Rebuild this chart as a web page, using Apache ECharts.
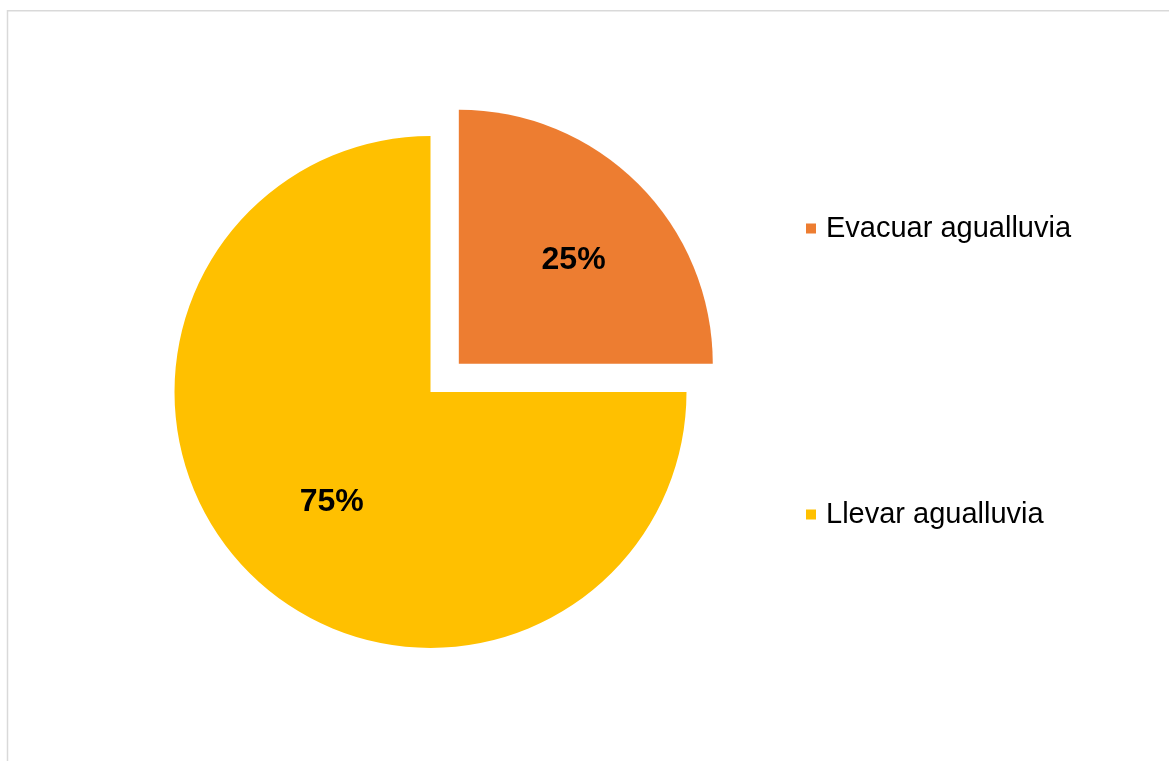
<!DOCTYPE html>
<html>
<head>
<meta charset="utf-8">
<script src="https://cdn.jsdelivr.net/npm/echarts@6/dist/echarts.min.js"></script>
<style>
    html, body { margin: 0; padding: 0; background: #fff; }
    #chart { width: 1169px; height: 761px; }
</style>
</head>
<body>
<div id="chart"></div>
<script>
// categories and values
var categories = ['Evacuar agualluvia', 'Llevar agualluvia'];
var values = [25, 75];
var colors = ['#ED7D31', '#FFC000'];
var exploded = [true, false]; // which slice is pulled out

var CX = 430.5, CY = 392; // pie centre
var R = 256;
var OFFSET = 40;
var FONT = 'Arial, "Liberation Sans", sans-serif';

var total = values.reduce(function (a, b) { return a + b; }, 0);

// mid angle (radians, screen coords) of slice i, starting at 12 o'clock clockwise
function midAngle(i) {
    var before = 0;
    for (var k = 0; k < i; k++) before += values[k];
    var frac = (before + values[i] / 2) / total;
    return -Math.PI / 2 + frac * Math.PI * 2;
}

// one pie series per slice, the other slices left transparent,
// so the exploded slice can get its own shifted centre
function sliceSeries(i) {
    var a = midAngle(i);
    var off = exploded[i] ? OFFSET : 0;
    var cx = CX + Math.cos(a) * off, cy = CY + Math.sin(a) * off;
    return {
        type: 'pie',
        center: [cx, cy],
        radius: exploded[i] ? R - 2 : R,
        startAngle: 90,
        clockwise: true,
        silent: true,
        avoidLabelOverlap: false,
        emphasis: { disabled: true },
        label: {
            show: true,
            position: 'inside',
            formatter: function (p) { return p.percent + '%'; },
            fontFamily: FONT,
            fontSize: 32,
            fontWeight: 'bold',
            color: '#000'
        },
        labelLine: { show: false },
        // labels sit a bit further out than the default half radius
        labelLayout: function () {
            var d = 0.59 * R;
            return {
                x: cx + Math.cos(a) * d + 8,
                y: cy + Math.sin(a) * d + 3,
                align: 'center',
                verticalAlign: 'middle'
            };
        },
        data: categories.map(function (c, k) {
            if (k === i) {
                return { name: c, value: values[k], itemStyle: { color: colors[k], borderWidth: 0 } };
            }
            return {
                name: '_' + k,
                value: values[k],
                itemStyle: { color: 'rgba(0,0,0,0)', borderWidth: 0 },
                label: { show: false }
            };
        })
    };
}

var myChart = echarts.init(document.getElementById('chart'));
myChart.setOption({
    animation: false,
    backgroundColor: '#fff',
    graphic: [{
        type: 'rect',
        silent: true,
        shape: { x: 7.5, y: 10.75, width: 1300, height: 900 },
        style: { fill: 'none', stroke: '#d9d9d9', lineWidth: 1.5 }
    }],
    legend: {
        orient: 'vertical',
        left: 806,
        top: 214,
        padding: 0,
        itemWidth: 10,
        itemHeight: 10,
        itemGap: 257,
        icon: 'rect',
        selectedMode: false,
        data: categories,
        textStyle: {
            fontFamily: FONT,
            fontSize: 29,
            lineHeight: 29,
            color: '#000',
            padding: [0, 0, 0, 5]
        }
    },
    series: categories.map(function (c, i) { return sliceSeries(i); })
});
</script>
</body>
</html>
